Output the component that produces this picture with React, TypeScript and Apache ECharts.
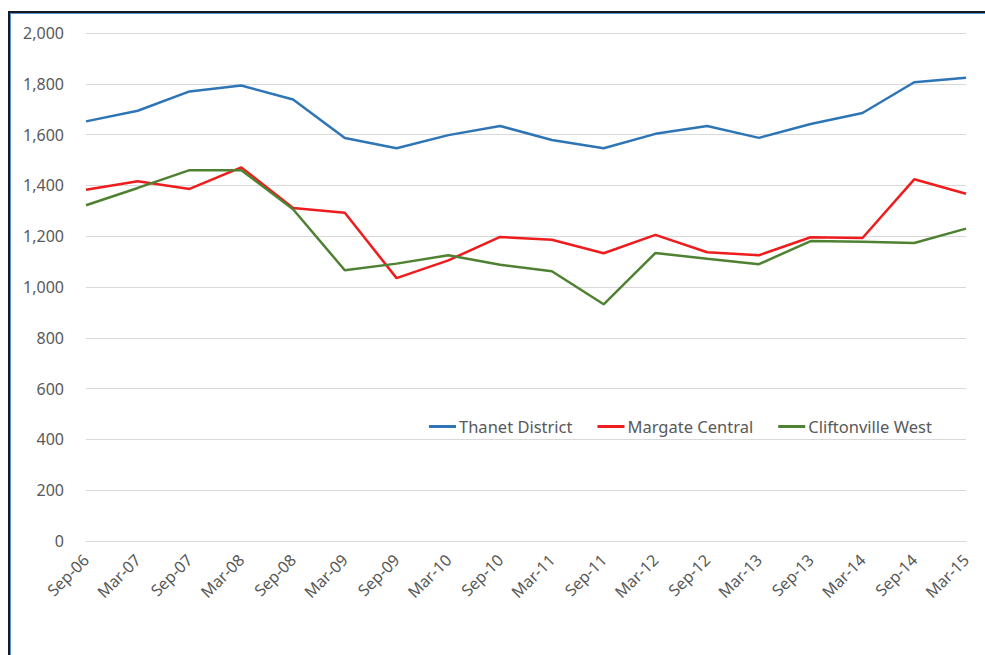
import React, { useEffect, useRef } from "react";
import * as echarts from "echarts";

const categories = [
  "Sep-06", "Mar-07", "Sep-07", "Mar-08", "Sep-08", "Mar-09", "Sep-09", "Mar-10", "Sep-10",
  "Mar-11", "Sep-11", "Mar-12", "Sep-12", "Mar-13", "Sep-13", "Mar-14", "Sep-14", "Mar-15",
];

const thanetDistrict = [
  1652, 1694, 1770, 1793, 1738, 1587, 1546, 1598, 1634, 1579, 1546, 1603, 1634, 1587, 1642, 1685, 1806, 1824,
];

const margateCentral = [
  1383, 1416, 1386, 1471, 1311, 1292, 1035, 1105, 1197, 1186, 1133, 1205, 1137, 1125, 1196, 1193, 1424, 1367,
];

const cliftonvilleWest = [
  1322, 1390, 1460, 1460, 1306, 1066, 1092, 1125, 1088, 1062, 932, 1134, 1111, 1090, 1181, 1178, 1173, 1230,
];

const seriesNames = ["Thanet District", "Margate Central", "Cliftonville West"];

export default function App() {
  const ref = useRef<HTMLDivElement>(null);

  useEffect(() => {
    if (!ref.current) return;
    const chart = echarts.init(ref.current, undefined, { renderer: "svg" });
    const font = "'Noto Sans', 'Open Sans', sans-serif";
    chart.setOption({
      animation: false,
      backgroundColor: "#ffffff",
      grid: { left: 86, right: 19, top: 33, bottom: 114, containLabel: false },
      legend: {
        left: 429,
        top: 418,
        padding: 0,
        icon: "rect",
        itemWidth: 27,
        itemHeight: 3,
        itemGap: 25,
        textStyle: { color: "#595959", fontSize: 16.5, fontFamily: font, padding: [0, 0, 0, -2] },
        data: seriesNames,
      },
      xAxis: {
        type: "category",
        data: categories,
        boundaryGap: false,
        axisLine: { show: true, lineStyle: { color: "#d9d9d9" } },
        axisTick: { show: false },
        axisLabel: {
          rotate: 45,
          interval: 0,
          color: "#595959",
          fontSize: 16,
          fontFamily: font,
          margin: 16,
        },
      },
      yAxis: {
        type: "value",
        min: 0,
        max: 2000,
        interval: 200,
        axisLine: { show: false },
        axisTick: { show: false },
        splitLine: { lineStyle: { color: "#d9d9d9", width: 1 } },
        axisLabel: {
          color: "#595959",
          fontSize: 16,
          fontFamily: font,
          margin: 22,
          formatter: (v: number) => v.toLocaleString("en-US"),
        },
      },
      series: [
        {
          name: seriesNames[0],
          type: "line",
          data: thanetDistrict,
          showSymbol: false,
          symbol: "none",
          lineStyle: { color: "#2e75b6", width: 2.5 },
          itemStyle: { color: "#2e75b6" },
        },
        {
          name: seriesNames[1],
          type: "line",
          data: margateCentral,
          showSymbol: false,
          symbol: "none",
          lineStyle: { color: "#ee1c1c", width: 2.5 },
          itemStyle: { color: "#ee1c1c" },
        },
        {
          name: seriesNames[2],
          type: "line",
          data: cliftonvilleWest,
          showSymbol: false,
          symbol: "none",
          lineStyle: { color: "#4e8131", width: 2.5 },
          itemStyle: { color: "#4e8131" },
        },
      ],
    });
    return () => chart.dispose();
  }, []);

  return (
    <div
      style={{
        position: "fixed",
        left: 0,
        top: 0,
        width: 985,
        height: 655,
        background: "#ffffff",
        overflow: "hidden",
      }}
    >
      <div ref={ref} style={{ position: "absolute", left: 0, top: 0, width: 985, height: 655 }} />
      <div
        style={{
          position: "absolute",
          left: 8,
          top: 11,
          width: 977,
          height: 644,
          borderLeft: "2px solid #151a24",
          borderTop: "2px solid #151a24",
          boxShadow: "inset 1px 1px 0 #5b8fd0",
          pointerEvents: "none",
          boxSizing: "border-box",
        }}
      />
    </div>
  );
}
